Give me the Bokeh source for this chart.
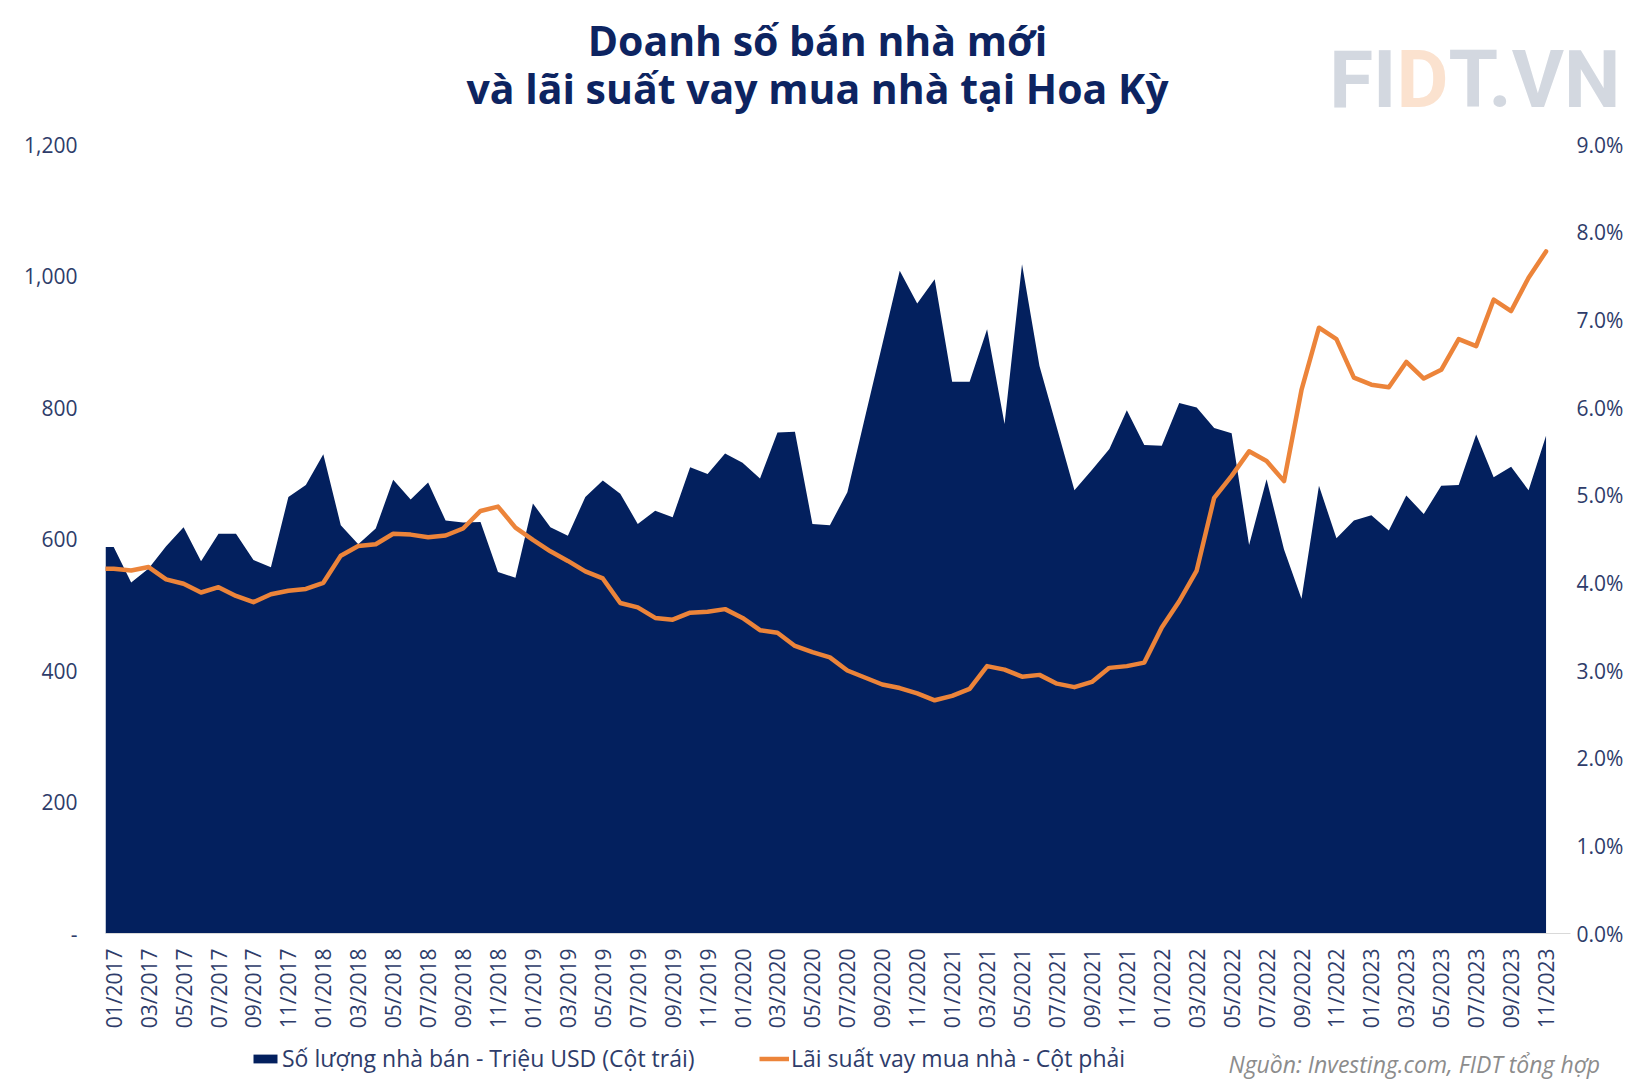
from bokeh.plotting import figure
from bokeh.layouts import column
from bokeh.models import (Range1d, LinearAxis, FixedTicker, Legend, LegendItem,
                          NumeralTickFormatter, PrintfTickFormatter)
from bokeh.core.properties import value
from bokeh.embed import file_html
from bokeh.resources import INLINE
import math

# ---- data ----
months = [f"{m:02d}/{y}" for y in range(2017, 2024) for m in range(1, 13)][:83]

sales = [588, 534, 555, 589, 618, 566, 608, 608, 568, 557,
         664, 682, 729, 621, 592, 616, 690, 660, 686, 628,
         625, 626, 550, 541, 654, 618, 605, 664, 689, 669,
         623, 643, 633, 709, 699, 730, 716, 692, 762, 763,
         623, 621, 671, 784, 896, 1008, 958, 995, 839, 839,
         919, 775, 1018, 863, 769, 674, 705, 737, 796, 743,
         742, 807, 800, 769, 761, 591, 691, 584, 509, 681,
         601, 628, 636, 613, 666, 638, 681, 682, 759, 694,
         710, 674, 757]

rates = [4.16, 4.14, 4.18, 4.04, 3.99, 3.89, 3.95, 3.85, 3.78, 3.87,
         3.91, 3.93, 4.00, 4.31, 4.42, 4.44, 4.56, 4.55, 4.52, 4.54,
         4.62, 4.82, 4.87, 4.63, 4.49, 4.36, 4.25, 4.13, 4.05, 3.77,
         3.72, 3.60, 3.58, 3.66, 3.67, 3.70, 3.60, 3.46, 3.43, 3.28,
         3.21, 3.15, 3.00, 2.92, 2.84, 2.80, 2.74, 2.66, 2.71, 2.79,
         3.05, 3.01, 2.93, 2.95, 2.85, 2.81, 2.87, 3.03, 3.05, 3.09,
         3.49, 3.79, 4.14, 4.97, 5.22, 5.50, 5.39, 5.16, 6.20, 6.91,
         6.78, 6.34, 6.26, 6.23, 6.52, 6.33, 6.43, 6.78, 6.70, 7.23,
         7.10, 7.48, 7.78]

left_ticks = [0, 200, 400, 600, 800, 1000, 1200]
right_ticks = [0, 1, 2, 3, 4, 5, 6, 7, 8, 9]

title_lines = ["Doanh số bán nhà mới", "và lãi suất vay mua nhà tại Hoa Kỳ"]
sales_label = "Số lượng nhà bán - Triệu USD (Cột trái)"
rate_label = "Lãi suất vay mua nhà - Cột phải"
source_text = "Nguồn: Investing.com, FIDT tổng hợp"
logo_parts = ["FI", "D", "T.VN"]

NAVY = "#03205E"
ORANGE = "#EC843A"
TXT = "#2E3C6A"
FONT = "Open Sans"
W = 1632
HEAD_H = 128
MAIN_H = 912
FOOT_H = 44


def bare(fig):
    fig.outline_line_color = None
    fig.background_fill_color = "white"
    fig.border_fill_color = "white"
    fig.xgrid.visible = False
    fig.ygrid.visible = False
    fig.frame_align = False


# ---------- header ----------
head = figure(width=W, height=HEAD_H, output_backend="svg", toolbar_location=None,
              x_range=Range1d(0, W), y_range=Range1d(HEAD_H, 0),
              x_axis_type=None, y_axis_type=None,
              min_border=0, min_border_left=0, min_border_right=0,
              min_border_top=0, min_border_bottom=0)
bare(head)
head.text(x=[817, 817], y=[39, 87], text=title_lines, text_align="center",
          text_baseline="middle", text_font=value(FONT), text_font_style="bold",
          text_font_size="41px", text_color="#0D2461")
logo_font = value("Roboto")
head.text(x=[1396, 1396, 1448], y=[79, 79, 79], text=logo_parts,
          text_align=["right", "left", "left"], text_baseline="middle", text_font=logo_font,
          text_font_style="bold", text_font_size="80px",
          text_color=["#D3D8E0", "#FBE2CF", "#D3D8E0"])

# ---------- main chart ----------
x0 = -0.47
x_end = 83.4
xs = [x0] + list(range(len(sales)))
ys_sales = [sales[0]] + sales
ys_rates = [rates[0]] + rates

p = figure(width=W, height=MAIN_H, output_backend="svg", toolbar_location=None,
           x_range=Range1d(x0, x_end), y_range=Range1d(0, 1200),
           min_border_left=105, min_border_right=62, min_border_top=16, min_border_bottom=107)
p.extra_y_ranges = {"rate": Range1d(0, 9)}
bare(p)

area = p.varea(x=xs, y1=0, y2=ys_sales, fill_color=NAVY)
line = p.line(x=xs, y=ys_rates, y_range_name="rate", line_color=ORANGE, line_width=4.5,
              line_join="round", line_cap="round")


def style_axis(ax):
    ax.major_tick_line_color = None
    ax.minor_tick_line_color = None
    ax.major_label_text_font = FONT
    ax.major_label_text_font_size = "21px"
    ax.major_label_text_color = TXT


xa = p.xaxis[0]
style_axis(xa)
xa.ticker = FixedTicker(ticks=list(range(0, len(months), 2)))
xa.major_label_overrides = {i: months[i] for i in range(0, len(months), 2)}
xa.major_label_orientation = math.pi / 2
xa.major_label_standoff = 9
xa.axis_line_color = "#D9D9D9"
xa.axis_line_width = 1

ya = p.yaxis[0]
style_axis(ya)
ya.ticker = FixedTicker(ticks=left_ticks)
ya.formatter = NumeralTickFormatter(format="0,0")
ya.major_label_overrides = {0: "-"}
ya.major_label_standoff = 22
ya.axis_line_color = None

ra = LinearAxis(y_range_name="rate", ticker=FixedTicker(ticks=right_ticks),
                formatter=PrintfTickFormatter(format="%.1f%%"))
style_axis(ra)
ra.major_label_standoff = 0
ra.axis_line_color = None
p.add_layout(ra, "right")

# ---------- footer (legend + source) ----------
foot = figure(width=W, height=FOOT_H, output_backend="svg", toolbar_location=None,
              x_range=Range1d(0, W), y_range=Range1d(FOOT_H, 0),
              x_axis_type=None, y_axis_type=None,
              min_border=0, min_border_left=0, min_border_right=0,
              min_border_top=0, min_border_bottom=0)
bare(foot)
# hidden copies of the series, only used to draw the legend glyphs
f_area = foot.varea(x=xs, y1=0, y2=ys_sales, fill_color=NAVY, visible=False)
f_line = foot.line(x=xs, y=ys_rates, line_color=ORANGE, line_width=4.5, visible=False)

leg_style = dict(orientation="horizontal", label_text_font=FONT, label_text_font_size="23px",
                 label_text_color=TXT, glyph_width=30, glyph_height=11, label_height=24,
                 label_standoff=2, padding=0, margin=0, border_line_color=None,
                 background_fill_alpha=0)
leg1 = Legend(items=[LegendItem(label=sales_label, renderers=[f_area])],
              location=(250, 10), **leg_style)
leg2 = Legend(items=[LegendItem(label=rate_label, renderers=[f_line])],
              location=(759, 10), **leg_style)
foot.add_layout(leg1, "center")
foot.add_layout(leg2, "center")

foot.text(x=[1228], y=[23], text=[source_text], text_align="left", text_baseline="middle",
          text_font=value(FONT), text_font_style="italic", text_font_size="23px",
          text_color="#8C8C8C")

layout = column(head, p, foot, spacing=0)
open("out.html", "w").write(file_html(layout, INLINE))
